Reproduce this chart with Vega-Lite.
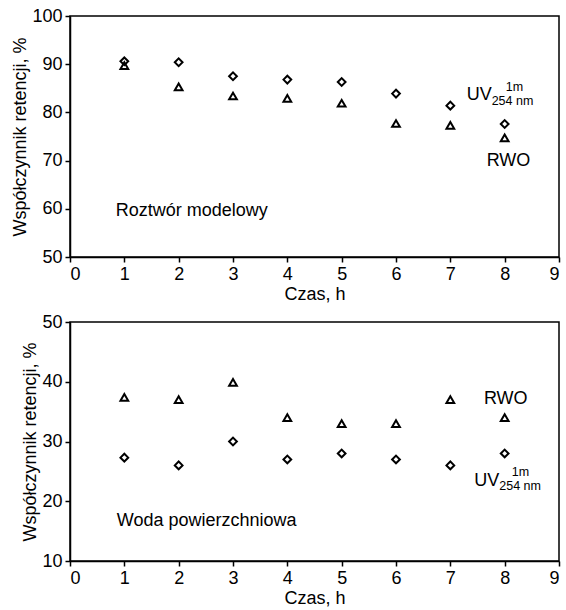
{
  "$schema": "https://vega.github.io/schema/vega-lite/v6.json",
  "padding": {"left": 11, "top": 6, "right": 5, "bottom": 0},
  "spacing": 8,
  "config": {
    "font": "Liberation Sans",
    "view": {"stroke": "black", "strokeWidth": 1.5},
    "axis": {
      "grid": false, "domainColor": "black", "domainWidth": 1.5, "tickColor": "black", "tickWidth": 1.5, "tickSize": 5,
      "labelColor": "black", "labelFontSize": 18, "labelFont": "Liberation Sans",
      "titleColor": "black", "titleFontSize": 18, "titleFont": "Liberation Sans", "titleFontWeight": "normal", "labelPadding": 3, "titlePadding": 2
    }
  },
  "datasets": {
    "points": [
      {"panel": "top", "czas": 1, "seria": "UV", "wartosc": 90.6},
      {"panel": "top", "czas": 2, "seria": "UV", "wartosc": 90.4},
      {"panel": "top", "czas": 3, "seria": "UV", "wartosc": 87.5},
      {"panel": "top", "czas": 4, "seria": "UV", "wartosc": 86.8},
      {"panel": "top", "czas": 5, "seria": "UV", "wartosc": 86.3},
      {"panel": "top", "czas": 6, "seria": "UV", "wartosc": 83.9},
      {"panel": "top", "czas": 7, "seria": "UV", "wartosc": 81.4},
      {"panel": "top", "czas": 8, "seria": "UV", "wartosc": 77.6},
      {"panel": "top", "czas": 1, "seria": "RWO", "wartosc": 89.7},
      {"panel": "top", "czas": 2, "seria": "RWO", "wartosc": 85.3},
      {"panel": "top", "czas": 3, "seria": "RWO", "wartosc": 83.4},
      {"panel": "top", "czas": 4, "seria": "RWO", "wartosc": 82.9},
      {"panel": "top", "czas": 5, "seria": "RWO", "wartosc": 81.9},
      {"panel": "top", "czas": 6, "seria": "RWO", "wartosc": 77.7},
      {"panel": "top", "czas": 7, "seria": "RWO", "wartosc": 77.3},
      {"panel": "top", "czas": 8, "seria": "RWO", "wartosc": 74.7},
      {"panel": "bottom", "czas": 1, "seria": "RWO", "wartosc": 37.4},
      {"panel": "bottom", "czas": 2, "seria": "RWO", "wartosc": 37.0},
      {"panel": "bottom", "czas": 3, "seria": "RWO", "wartosc": 39.9},
      {"panel": "bottom", "czas": 4, "seria": "RWO", "wartosc": 34.0},
      {"panel": "bottom", "czas": 5, "seria": "RWO", "wartosc": 33.0},
      {"panel": "bottom", "czas": 6, "seria": "RWO", "wartosc": 33.0},
      {"panel": "bottom", "czas": 7, "seria": "RWO", "wartosc": 37.0},
      {"panel": "bottom", "czas": 8, "seria": "RWO", "wartosc": 34.0},
      {"panel": "bottom", "czas": 1, "seria": "UV", "wartosc": 27.3},
      {"panel": "bottom", "czas": 2, "seria": "UV", "wartosc": 26.0},
      {"panel": "bottom", "czas": 3, "seria": "UV", "wartosc": 30.0},
      {"panel": "bottom", "czas": 4, "seria": "UV", "wartosc": 27.0},
      {"panel": "bottom", "czas": 5, "seria": "UV", "wartosc": 28.0},
      {"panel": "bottom", "czas": 6, "seria": "UV", "wartosc": 27.0},
      {"panel": "bottom", "czas": 7, "seria": "UV", "wartosc": 26.0},
      {"panel": "bottom", "czas": 8, "seria": "UV", "wartosc": 28.0}
    ],
    "labels": [
      {"panel": "top", "rola": "main", "czas": 7.3, "wartosc": 82.6, "tekst": "UV"},
      {"panel": "top", "rola": "sub", "czas": 7.76, "wartosc": 81.6, "tekst": "254 nm"},
      {"panel": "top", "rola": "sup", "czas": 8.18, "wartosc": 84.5, "tekst": "1m"},
      {"panel": "top", "rola": "center", "czas": 8.07, "wartosc": 68.9, "tekst": "RWO"},
      {"panel": "top", "rola": "main", "czas": 0.84, "wartosc": 58.5, "tekst": "Roztwór modelowy"},
      {"panel": "bottom", "rola": "main", "czas": 7.44, "wartosc": 22.6, "tekst": "UV"},
      {"panel": "bottom", "rola": "sub", "czas": 7.9, "wartosc": 21.8, "tekst": "254 nm"},
      {"panel": "bottom", "rola": "sup", "czas": 8.29, "wartosc": 24.2, "tekst": "1m"},
      {"panel": "bottom", "rola": "center", "czas": 8.02, "wartosc": 36.3, "tekst": "RWO"},
      {"panel": "bottom", "rola": "main", "czas": 0.86, "wartosc": 15.9, "tekst": "Woda powierzchniowa"}
    ]
  },
  "vconcat": [
    {
      "width": 489, "height": 241,
      "encoding": {
        "x": {"field": "czas", "type": "quantitative", "title": "Czas, h", "scale": {"domain": [0, 9], "nice": false}, "axis": {"values": [0,1,2,3,4,5,6,7,8,9]}},
        "y": {"field": "wartosc", "type": "quantitative", "title": "Współczynnik retencji, %", "scale": {"domain": [50, 100], "nice": false, "zero": false}, "axis": {"values": [50,60,70,80,90,100]}}
      },
      "layer": [
        {
          "data": {"name": "points"},
          "transform": [{"filter": "datum.panel === 'top'"}],
          "mark": {"type": "point", "filled": false, "stroke": "black", "strokeWidth": 2, "size": 60, "opacity": 1},
          "encoding": {"shape": {"field": "seria", "type": "nominal", "scale": {"domain": ["UV", "RWO"], "range": ["diamond", "triangle-up"]}, "legend": null}}
        },
        {
          "data": {"name": "labels"},
          "transform": [{"filter": "datum.panel === 'top' && datum.rola === 'main'"}],
          "mark": {"type": "text", "align": "left", "baseline": "alphabetic", "fontSize": 18, "color": "black"},
          "encoding": {"text": {"field": "tekst"}}
        },
        {
          "data": {"name": "labels"},
          "transform": [{"filter": "datum.panel === 'top' && datum.rola === 'center'"}],
          "mark": {"type": "text", "align": "center", "baseline": "alphabetic", "fontSize": 18, "color": "black"},
          "encoding": {"text": {"field": "tekst"}}
        },
        {
          "data": {"name": "labels"},
          "transform": [{"filter": "datum.panel === 'top' && datum.rola === 'sub'"}],
          "mark": {"type": "text", "align": "left", "baseline": "alphabetic", "fontSize": 12.5, "color": "black"},
          "encoding": {"text": {"field": "tekst"}}
        },
        {
          "data": {"name": "labels"},
          "transform": [{"filter": "datum.panel === 'top' && datum.rola === 'sup'"}],
          "mark": {"type": "text", "align": "center", "baseline": "alphabetic", "fontSize": 12.5, "color": "black"},
          "encoding": {"text": {"field": "tekst"}}
        }
      ]
    },
    {
      "width": 489, "height": 239,
      "encoding": {
        "x": {"field": "czas", "type": "quantitative", "title": "Czas, h", "scale": {"domain": [0, 9], "nice": false}, "axis": {"values": [0,1,2,3,4,5,6,7,8,9]}},
        "y": {"field": "wartosc", "type": "quantitative", "title": "Współczynnik retencji, %", "scale": {"domain": [10, 50], "nice": false, "zero": false}, "axis": {"values": [10,20,30,40,50]}}
      },
      "layer": [
        {
          "data": {"name": "points"},
          "transform": [{"filter": "datum.panel === 'bottom'"}],
          "mark": {"type": "point", "filled": false, "stroke": "black", "strokeWidth": 2, "size": 60, "opacity": 1},
          "encoding": {"shape": {"field": "seria", "type": "nominal", "scale": {"domain": ["UV", "RWO"], "range": ["diamond", "triangle-up"]}, "legend": null}}
        },
        {
          "data": {"name": "labels"},
          "transform": [{"filter": "datum.panel === 'bottom' && datum.rola === 'main'"}],
          "mark": {"type": "text", "align": "left", "baseline": "alphabetic", "fontSize": 18, "color": "black"},
          "encoding": {"text": {"field": "tekst"}}
        },
        {
          "data": {"name": "labels"},
          "transform": [{"filter": "datum.panel === 'bottom' && datum.rola === 'center'"}],
          "mark": {"type": "text", "align": "center", "baseline": "alphabetic", "fontSize": 18, "color": "black"},
          "encoding": {"text": {"field": "tekst"}}
        },
        {
          "data": {"name": "labels"},
          "transform": [{"filter": "datum.panel === 'bottom' && datum.rola === 'sub'"}],
          "mark": {"type": "text", "align": "left", "baseline": "alphabetic", "fontSize": 12.5, "color": "black"},
          "encoding": {"text": {"field": "tekst"}}
        },
        {
          "data": {"name": "labels"},
          "transform": [{"filter": "datum.panel === 'bottom' && datum.rola === 'sup'"}],
          "mark": {"type": "text", "align": "center", "baseline": "alphabetic", "fontSize": 12.5, "color": "black"},
          "encoding": {"text": {"field": "tekst"}}
        }
      ]
    }
  ]
}
